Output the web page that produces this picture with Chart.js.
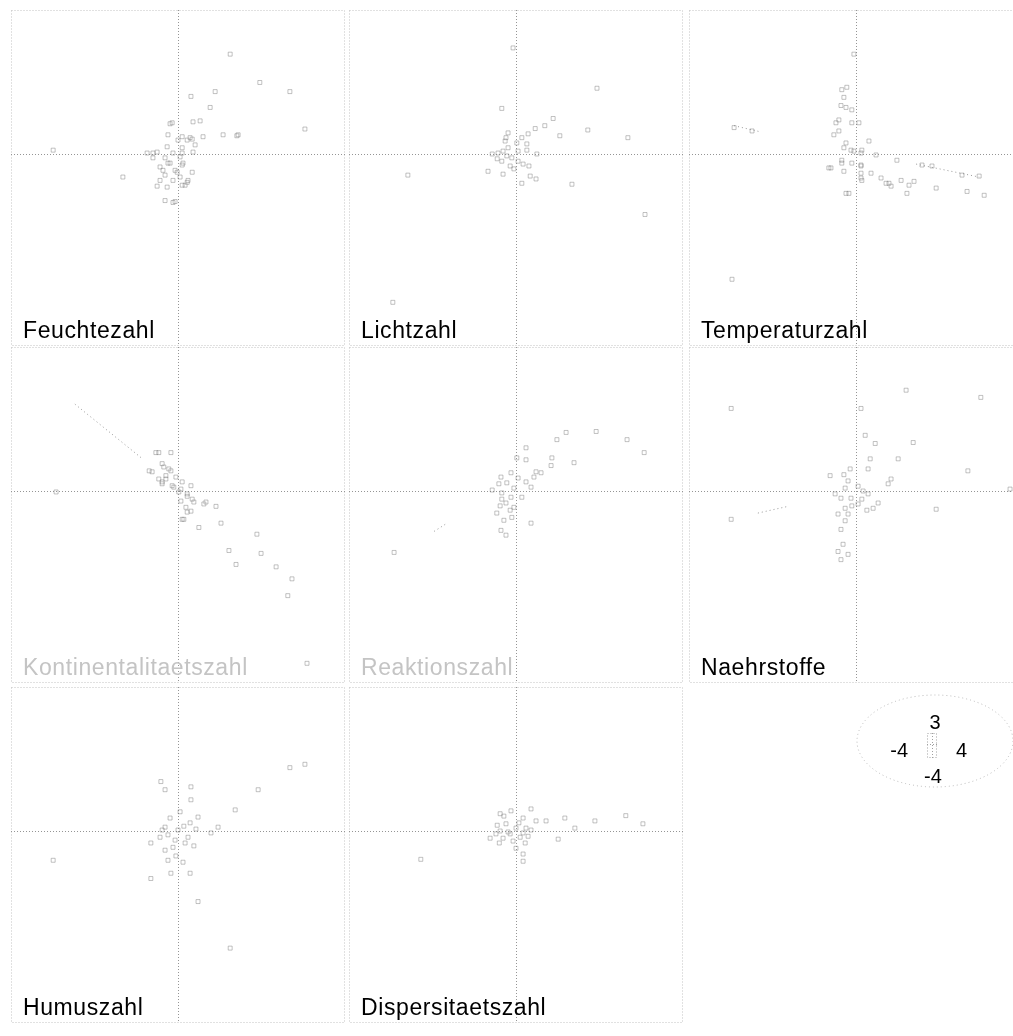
<!DOCTYPE html>
<html>
<head>
<meta charset="utf-8">
<script src="https://cdn.jsdelivr.net/npm/chart.js@4.4.1/dist/chart.umd.min.js"></script>
<style>
  html, body { margin: 0; padding: 0; background: #fff; }
  body { width: 1013px; height: 1036px; position: relative; overflow: hidden; }
  canvas { position: absolute; }
</style>
</head>
<body>
<script>
// Common axis extent of every ordination panel
const xRange = [-4, 4];
const yRange = [-4, 3];

// Panel titles (indicator values)
const panelNames = ['Feuchtezahl', 'Lichtzahl', 'Temperaturzahl',
  'Kontinentalitaetszahl', 'Reaktionszahl', 'Naehrstoffe',
  'Humuszahl', 'Dispersitaetszahl'];

// Site scores per panel, [axis 1, axis 2]
const feuchtezahl = [[1.25,2.08],[1.96,1.49],[0.89,1.30],[2.68,1.30],[0.31,1.20],[0.77,0.97],
  [0.53,0.69],[-0.19,0.63],[3.04,0.52],[1.08,0.40],[1.41,0.38],[0.10,0.36],[0.34,0.31],[0.60,0.36],
  [-2.99,0.08],[-0.26,0.15],[0.10,0.13],[0.36,0.04],[-0.12,0.02],[-0.60,0.02],[-0.31,-0.08],
  [0.05,-0.06],[-0.19,-0.19],[0.10,-0.23],[-0.43,-0.27],[-0.07,-0.34],[0.34,-0.38],[-0.31,-0.44],
  [0.05,-0.48],[-1.32,-0.48],[-0.43,-0.55],[0.22,-0.59],[-0.50,-0.67],[-0.26,-0.69],[0.17,-0.65],
  [-0.31,-0.97],[-0.12,-1.01],[0.22,0.29],[0.41,0.19],[-0.50,0.04],
  [-0.14,0.65],[0.36,0.67],[1.44,0.40],[0.29,0.34],[-0.24,0.40],[0.00,0.29],[-0.74,0.02],
  [-0.60,-0.08],[0.10,0.02],[-0.24,-0.19],[0.12,-0.19],[-0.36,-0.34],[-0.02,-0.38],[-0.12,-0.55],
  [0.24,-0.55],[0.10,-0.65],[-0.07,-0.99]];
const lichtzahl = [[-0.07,2.21],[1.94,1.37],[-0.34,0.95],[0.89,0.74],[0.69,0.59],[0.46,0.53],
  [1.05,0.38],[1.72,0.50],[2.68,0.34],[-0.19,0.44],[0.14,0.34],[-0.26,0.27],[0.26,0.21],[-0.19,0.13],
  [-0.43,0.02],[0.05,0.06],[-0.10,-0.08],[-0.34,-0.15],[0.17,-0.21],[-0.14,-0.25],[-0.57,0.00],
  [0.50,0.00],[-0.67,-0.36],[-0.31,-0.42],[0.34,-0.46],[0.14,-0.61],[1.34,-0.63],[-2.59,-0.44],
  [3.09,-1.26],[-2.95,-3.09],[0.29,0.42],
  [-0.24,0.34],[0.02,0.23],[-0.31,0.06],[0.26,0.08],[-0.22,-0.04],[0.05,-0.15],[-0.45,-0.10],
  [0.31,-0.25],[-0.05,-0.31],[0.48,-0.52]];
const temperaturzahl = [[-0.05,2.08],[-0.29,1.18],[-0.24,0.97],[-0.34,1.34],[-0.10,0.92],[0.07,0.65],
  [-0.41,0.48],[0.31,0.27],[-0.29,0.13],[-0.05,0.06],[0.14,0.08],[0.48,-0.02],[-0.34,-0.13],
  [-0.10,-0.19],[0.12,-0.25],[-0.60,-0.29],[-0.29,-0.36],[0.36,-0.40],[0.12,-0.50],[0.79,-0.61],
  [1.27,-0.65],[0.98,-0.13],[1.82,-0.25],[2.54,-0.44],[2.95,-0.46],[1.92,-0.71],[2.66,-0.78],
  [3.07,-0.86],[-0.17,-0.82],[1.22,-0.82],[-2.92,0.55],[-2.49,0.48],[-2.97,-2.61],[0.60,-0.50],
  [-0.22,1.39],[-0.36,1.01],[-0.41,0.71],[-0.48,0.65],[-0.10,0.65],[-0.53,0.40],[-0.24,0.23],
  [-0.12,0.08],[0.12,0.02],[-0.34,-0.19],[0.12,-0.23],[-0.65,-0.29],[0.12,-0.40],[0.14,-0.55],
  [0.72,-0.61],[1.08,-0.55],[1.39,-0.57],[0.84,-0.67],[1.58,-0.23],[-0.24,-0.82]];
const kontinentalitaetszahl = [[-0.53,0.80],[-0.34,0.50],[-0.62,0.40],[-0.29,0.32],[-0.38,0.19],
  [-0.14,0.11],[0.07,0.04],[0.22,-0.11],[0.07,-0.21],[0.38,-0.23],[0.62,-0.27],[0.91,-0.32],
  [0.22,-0.44],[0.14,-0.59],[0.50,-0.76],[1.03,-0.67],[1.89,-0.90],[1.22,-1.24],[1.39,-1.53],
  [1.99,-1.30],[2.35,-1.58],[2.73,-1.83],[2.63,-2.18],[-2.92,-0.02],[3.09,-3.59],[-0.17,0.42],
  [-0.46,0.25],[-0.05,0.29],
  [-0.46,0.80],[-0.17,0.80],[-0.69,0.42],[-0.38,0.57],[-0.22,0.46],[-0.29,0.25],[-0.38,0.15],
  [-0.10,0.08],[0.10,0.19],[0.31,0.11],[0.02,-0.02],[0.22,-0.06],[0.34,-0.17],[0.67,-0.23],
  [0.19,-0.34],[0.31,-0.42],[0.10,-0.59]];
const reaktionszahl = [[-2.92,-1.28],[1.20,1.22],[0.98,1.07],[1.92,1.24],[2.66,1.07],[3.07,0.80],
  [0.24,0.90],[0.24,0.65],[0.02,0.69],[0.86,0.69],[0.84,0.53],[1.39,0.59],[0.60,0.38],[0.43,0.29],
  [0.24,0.19],[-0.36,0.29],[-0.22,0.17],[-0.57,0.02],[-0.34,-0.04],[-0.12,-0.13],[-0.24,-0.25],
  [-0.05,-0.34],[-0.46,-0.46],[-0.29,-0.61],[-0.36,-0.82],[-0.24,-0.92],[0.36,-0.67],[0.14,-0.13],
  [0.36,0.08],
  [-0.12,0.38],[0.05,0.27],[-0.41,0.15],[-0.05,0.06],[-0.34,-0.17],[-0.14,-0.40],[-0.38,-0.31],
  [-0.10,-0.55],[0.48,0.40]];
const naehrstoffe = [[-2.99,1.72],[1.20,2.10],[2.99,1.95],[0.12,1.72],[0.22,1.16],[0.46,0.99],
  [1.37,1.01],[0.34,0.67],[1.01,0.67],[2.68,0.42],[0.29,0.46],[-0.14,0.46],[-0.62,0.32],[0.84,0.25],
  [0.77,0.15],[-0.19,0.21],[-0.26,0.06],[0.17,0.00],[-0.50,-0.06],[-0.12,-0.15],[0.29,-0.06],
  [0.53,-0.25],[0.05,-0.27],[0.41,-0.36],[-0.26,-0.36],[-0.43,-0.48],[-0.19,-0.48],[-0.36,-0.80],
  [-0.31,-1.11],[-0.43,-1.26],[-0.19,-1.32],[-0.36,-1.43],[1.92,-0.38],[-2.99,-0.59],[3.69,0.04],
  [-0.29,0.34],[0.05,0.10],[-0.36,-0.15],[0.14,-0.17],[-0.10,-0.31],[0.26,-0.40],[-0.26,-0.62]];
const humuszahl = [[3.04,1.39],[2.68,1.32],[1.92,0.86],[-0.41,1.03],[-0.31,0.86],[0.31,0.92],
  [0.31,0.65],[1.37,0.44],[0.05,0.40],[0.48,0.29],[0.96,0.08],[0.79,-0.04],[-0.31,0.08],[0.00,0.02],
  [0.29,0.17],[-0.43,-0.13],[-0.07,-0.19],[0.17,-0.25],[-0.31,-0.40],[-0.65,-0.25],[-0.24,-0.61],
  [0.12,-0.65],[-0.17,-0.88],[0.29,-0.88],[-0.65,-0.99],[-2.99,-0.61],[0.48,-1.47],[1.25,-2.44],
  [-0.19,0.27],[0.14,0.10],[-0.38,0.02],[0.43,0.04],[-0.24,-0.08],[0.24,-0.13],[-0.12,-0.34],
  [0.38,-0.31],[-0.05,-0.52]];
const dispersitaetszahl = [[-2.28,-0.59],[2.63,0.32],[3.04,0.15],[1.89,0.21],[1.17,0.27],[1.41,0.06],
  [0.72,0.21],[1.01,-0.17],[0.36,0.46],[-0.12,0.42],[-0.38,0.36],[0.17,0.27],[0.48,0.21],[-0.24,0.15],
  [0.00,0.06],[0.24,0.06],[-0.38,0.00],[-0.14,-0.06],[0.17,-0.04],[-0.62,-0.15],[-0.31,-0.15],
  [0.29,-0.11],[-0.07,-0.21],[0.22,-0.25],[0.00,-0.36],[0.17,-0.48],[0.17,-0.63],[-0.48,-0.06],
  [-0.29,0.31],[0.07,0.17],[-0.45,0.12],[0.36,0.02],[-0.19,-0.02],[0.10,-0.13],[-0.40,-0.25]];

// Faint connecting traces drawn in some panels
const temperaturTrailA = [[1.44,-0.21],[2.95,-0.48]];
const temperaturTrailB = [[-2.92,0.59],[-2.28,0.46]];
const kontinentalTrail = [[-2.47,1.81],[-0.85,0.67]];
const reaktionTrail = [[-1.96,-0.84],[-1.65,-0.67]];
const naehrstoffTrail = [[-2.35,-0.46],[-1.63,-0.32]];

const panelPoints = [feuchtezahl, lichtzahl, temperaturzahl, kontinentalitaetszahl,
  reaktionszahl, naehrstoffe, humuszahl, dispersitaetszahl];
const panelTrails = [[], [], [temperaturTrailA, temperaturTrailB], [kontinentalTrail],
  [reaktionTrail], [naehrstoffTrail], [], []];

// Layout of the 3 x 3 grid
const colLeft = [11, 349, 689];
const rowTop = [10, 347, 687];
const panelW = 334, panelH = 336;
const mutedTitles = ['Kontinentalitaetszahl', 'Reaktionszahl'];
const FONT = '"Liberation Sans", Arial, sans-serif';

// Frame, dotted zero axes and the panel title
const panelDecor = {
  id: 'panelDecor',
  beforeDatasetsDraw(chart, args, opts) {
    const { ctx, chartArea: a, scales: { x, y } } = chart;
    ctx.save();
    ctx.lineWidth = 1;
    ctx.setLineDash([1, 2]);
    ctx.strokeStyle = '#c2c2c2';
    ctx.strokeRect(a.left + 0.5, a.top + 0.5, a.width - 1, a.height - 1);
    ctx.strokeStyle = '#959595';
    const x0 = Math.round(x.getPixelForValue(0)) + 0.5;
    const y0 = Math.round(y.getPixelForValue(0)) + 0.5;
    ctx.beginPath();
    ctx.moveTo(x0, a.top); ctx.lineTo(x0, a.bottom);
    ctx.moveTo(a.left, y0); ctx.lineTo(a.right, y0);
    ctx.stroke();
    ctx.restore();
  },
  afterDraw(chart, args, opts) {
    if (!opts.label) return;
    const { ctx, chartArea: a } = chart;
    ctx.save();
    ctx.font = '23px ' + FONT;
    if ('letterSpacing' in ctx) ctx.letterSpacing = '0.6px';
    ctx.fillStyle = opts.color || '#000';
    ctx.textBaseline = 'alphabetic';
    ctx.textAlign = 'left';
    ctx.fillText(opts.label, a.left + 12, a.bottom - 8);
    ctx.restore();
  }
};

function makeCanvas(left, top, w, h) {
  const c = document.createElement('canvas');
  c.width = w; c.height = h;
  c.style.left = left + 'px'; c.style.top = top + 'px';
  c.style.width = w + 'px'; c.style.height = h + 'px';
  document.body.appendChild(c);
  return c;
}

const hiddenScales = {
  x: { type: 'linear', min: xRange[0], max: xRange[1], display: false },
  y: { type: 'linear', min: yRange[0], max: yRange[1], display: false }
};

panelNames.forEach((name, i) => {
  const col = i % 3, row = Math.floor(i / 3);
  const canvas = makeCanvas(colLeft[col], rowTop[row], panelW, panelH);
  const datasets = [{
    type: 'scatter',
    data: panelPoints[i].map(p => ({ x: p[0], y: p[1] })),
    pointStyle: 'rect',
    pointRadius: 2.8,
    borderWidth: 1,
    borderColor: 'rgba(120,120,120,0.45)',
    backgroundColor: 'rgba(0,0,0,0)'
  }];
  panelTrails[i].forEach(t => datasets.push({
    type: 'line',
    data: t.map(p => ({ x: p[0], y: p[1] })),
    showLine: true,
    borderColor: 'rgba(110,110,110,0.7)',
    borderWidth: 1,
    borderDash: [1, 3],
    pointRadius: 0,
    fill: false
  }));
  new Chart(canvas, {
    type: 'scatter',
    data: { datasets },
    options: {
      responsive: false,
      animation: false,
      events: [],
      layout: { padding: 0, autoPadding: false },
      scales: hiddenScales,
      plugins: {
        legend: { display: false },
        tooltip: { enabled: false },
        panelDecor: { label: name, color: mutedTitles.includes(name) ? '#c4c4c4' : '#000' }
      }
    },
    plugins: [panelDecor]
  });
});

// Axis key: a miniature panel with its extent written around it
const axisKey = {
  id: 'axisKey',
  afterDraw(chart) {
    const { ctx, chartArea: a, scales: { x, y } } = chart;
    ctx.save();
    ctx.lineWidth = 1;
    ctx.setLineDash([1, 3]);
    ctx.strokeStyle = '#b8b8b8';
    ctx.beginPath();
    ctx.ellipse(a.left + 8, a.top + 8, 78, 46, 0, 0, Math.PI * 2);
    ctx.stroke();
    ctx.setLineDash([1, 2]);
    ctx.strokeStyle = '#a0a0a0';
    ctx.strokeRect(a.left + 0.5, a.top + 0.5, a.width - 1, a.height - 1);
    const x0 = Math.round(x.getPixelForValue(0)) + 0.5;
    const y0 = Math.round(y.getPixelForValue(0)) + 0.5;
    ctx.beginPath();
    ctx.moveTo(x0, a.top); ctx.lineTo(x0, a.bottom);
    ctx.moveTo(a.left, y0); ctx.lineTo(a.right, y0);
    ctx.stroke();
    ctx.setLineDash([]);
    ctx.fillStyle = '#000';
    ctx.font = '20px ' + FONT;
    ctx.textBaseline = 'alphabetic';
    const cx = (a.left + a.right) / 2;
    ctx.textAlign = 'center';
    ctx.fillText(String(yRange[1]), cx + 3, a.top - 4);
    ctx.fillText(String(yRange[0]), cx + 1, a.bottom + 25);
    ctx.textAlign = 'right';
    ctx.fillText(String(xRange[0]), a.left - 19, a.bottom - 1);
    ctx.textAlign = 'left';
    ctx.fillText(String(xRange[1]), a.right + 19, a.bottom - 1);
    ctx.restore();
  }
};

new Chart(makeCanvas(855, 693, 158, 97), {
  type: 'scatter',
  data: { datasets: [] },
  options: {
    responsive: false,
    animation: false,
    events: [],
    layout: { padding: { left: 72, right: 76, top: 40, bottom: 32 }, autoPadding: false },
    scales: hiddenScales,
    plugins: { legend: { display: false }, tooltip: { enabled: false } }
  },
  plugins: [axisKey]
});
</script>
</body>
</html>
